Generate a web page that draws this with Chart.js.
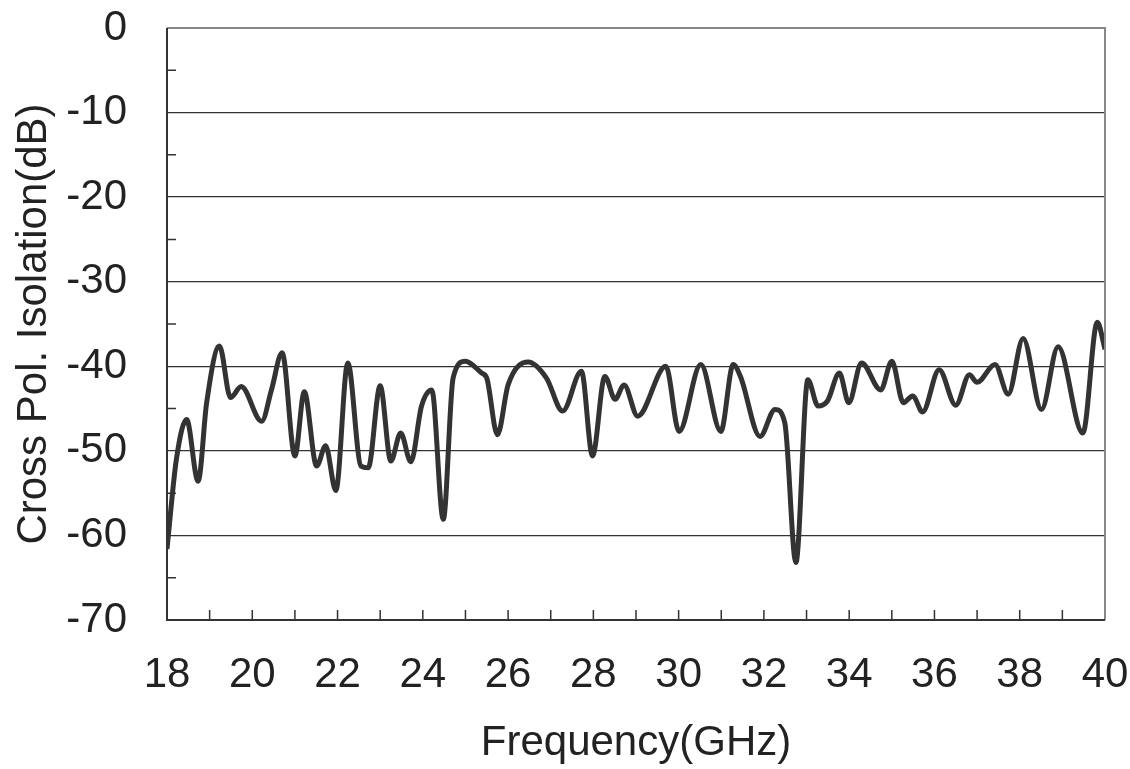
<!DOCTYPE html>
<html>
<head>
<meta charset="utf-8">
<script src="https://cdn.jsdelivr.net/npm/chart.js@4.4.1/dist/chart.umd.min.js"></script>
<style>
  html, body { margin: 0; padding: 0; background: #fff; }
  #wrap { width: 1130px; height: 769px; position: relative; }
</style>
</head>
<body>
<div id="wrap"><canvas id="isoChart"></canvas></div>
<script>
// 频率 (GHz) 与交叉极化隔离度 (dB)
const freqGHz = [
  18.00, 18.22, 18.46, 18.73, 18.93, 19.23, 19.49, 19.74, 20.22, 20.45,
  20.70, 21.00, 21.22, 21.51, 21.72, 21.96, 22.24, 22.55, 22.72, 23.00,
  23.25, 23.48, 23.72, 23.97, 24.21, 24.48, 24.71, 25.00, 25.38, 25.50,
  25.75, 26.00, 26.47, 26.90, 27.28, 27.72, 27.98, 28.27, 28.51, 28.72,
  29.04, 29.70, 30.01, 30.52, 30.99, 31.28, 31.45, 31.91, 32.26, 32.49,
  32.75, 33.03, 33.27, 33.49, 33.77, 33.99, 34.29, 34.74, 35.00, 35.27,
  35.49, 35.72, 36.11, 36.50, 36.82, 37.00, 37.42, 37.73, 38.08, 38.51,
  38.90, 39.48, 39.82, 40.00
];
const isolationDb = [
  -61.6, -51.0, -46.3, -53.6, -44.3, -37.6, -43.7, -42.4, -46.5, -42.8,
  -38.4, -50.6, -43.0, -51.8, -49.4, -54.7, -39.6, -51.8, -52.0, -42.3,
  -51.2, -47.9, -51.3, -44.7, -42.8, -58.1, -41.4, -39.4, -40.8, -41.4,
  -48.1, -42.2, -39.5, -41.4, -45.3, -40.6, -50.6, -41.2, -43.9, -42.2,
  -45.9, -40.0, -47.7, -39.8, -47.7, -39.8, -41.2, -48.3, -45.1, -46.7,
  -63.2, -41.6, -44.7, -44.1, -40.8, -44.3, -39.6, -42.8, -39.4, -44.3,
  -43.5, -45.4, -40.4, -44.6, -41.0, -41.9, -39.8, -43.3, -36.7, -45.1,
  -37.7, -47.9, -34.8, -38.0
];

// 坐标轴范围
const xRange = [18, 40];
const yRange = [-70, 0];

const FONT = "'Liberation Sans', Arial, sans-serif";

// 内侧刻度线与外框
const frameTicks = {
  id: 'frameTicks',
  afterDatasetsDraw(chart) {
    const ctx = chart.ctx;
    const a = chart.chartArea;
    const xs = chart.scales.x;
    const ys = chart.scales.y;
    ctx.save();
    ctx.strokeStyle = '#333';
    ctx.lineWidth = 1.5;
    ctx.beginPath();
    for (let f = xRange[0] + 1; f < xRange[1]; f++) {
      const px = xs.getPixelForValue(f);
      ctx.moveTo(px, a.bottom);
      ctx.lineTo(px, a.bottom - 10);
    }
    for (let v = yRange[0] + 5; v < yRange[1]; v += 10) {
      const py = ys.getPixelForValue(v);
      ctx.moveTo(a.left, py);
      ctx.lineTo(a.left + 9, py);
    }
    ctx.stroke();
    // 上、右边框（浅灰）
    ctx.strokeStyle = '#888';
    ctx.lineWidth = 2;
    ctx.beginPath();
    ctx.moveTo(a.left, a.top);
    ctx.lineTo(a.right, a.top);
    ctx.lineTo(a.right, a.bottom);
    ctx.stroke();
    // 左、下边框
    ctx.strokeStyle = '#333';
    ctx.beginPath();
    ctx.moveTo(a.left, a.top);
    ctx.lineTo(a.left, a.bottom);
    ctx.lineTo(a.right, a.bottom);
    ctx.stroke();
    ctx.restore();
  }
};

document.addEventListener('DOMContentLoaded', function() {
  const points = freqGHz.map(function(f, i) { return { x: f, y: isolationDb[i] }; });

  new Chart(document.getElementById('isoChart'), {
    type: 'line',
    data: {
      datasets: [{
        label: 'Cross Pol. Isolation',
        data: points,
        borderColor: '#333',
        borderWidth: 5,
        pointRadius: 0,
        fill: false,
        cubicInterpolationMode: 'monotone'
      }]
    },
    options: {
      responsive: true,
      maintainAspectRatio: false,
      animation: false,
      layout: { padding: { top: 28, right: 25, left: 0, bottom: 0 } },
      plugins: {
        legend: { display: false },
        tooltip: { enabled: false }
      },
      scales: {
        x: {
          type: 'linear',
          min: xRange[0],
          max: xRange[1],
          afterFit: function(scale) {
            scale.height = 149;
            scale.paddingLeft = 0;
            scale.paddingRight = 0;
          },
          grid: { display: false, drawTicks: false },
          border: { display: false },
          ticks: {
            stepSize: 2,
            padding: 30,
            color: '#222',
            font: { family: FONT, size: 42 },
            maxRotation: 0,
            autoSkip: false
          },
          title: {
            display: true,
            text: 'Frequency(GHz)',
            color: '#222',
            font: { family: FONT, size: 42 },
            padding: { top: 8, bottom: 0 }
          }
        },
        y: {
          min: yRange[0],
          max: yRange[1],
          afterFit: function(scale) {
            scale.width = 167;
            scale.paddingTop = 0;
            scale.paddingBottom = 0;
          },
          grid: {
            drawTicks: false,
            lineWidth: 1.3,
            color: function(c) {
              return (c.tick && (c.tick.value === yRange[1] || c.tick.value === yRange[0])) ? 'rgba(0,0,0,0)' : '#333';
            }
          },
          border: { display: false },
          ticks: {
            stepSize: 10,
            padding: 40,
            color: '#222',
            font: { family: FONT, size: 42 }
          },
          title: {
            display: true,
            text: 'Cross Pol. Isolation(dB)',
            color: '#222',
            font: { family: FONT, size: 42 },
            padding: { top: 9, bottom: 0 }
          }
        }
      }
    },
    plugins: [frameTicks]
  });
});
</script>
</body>
</html>
